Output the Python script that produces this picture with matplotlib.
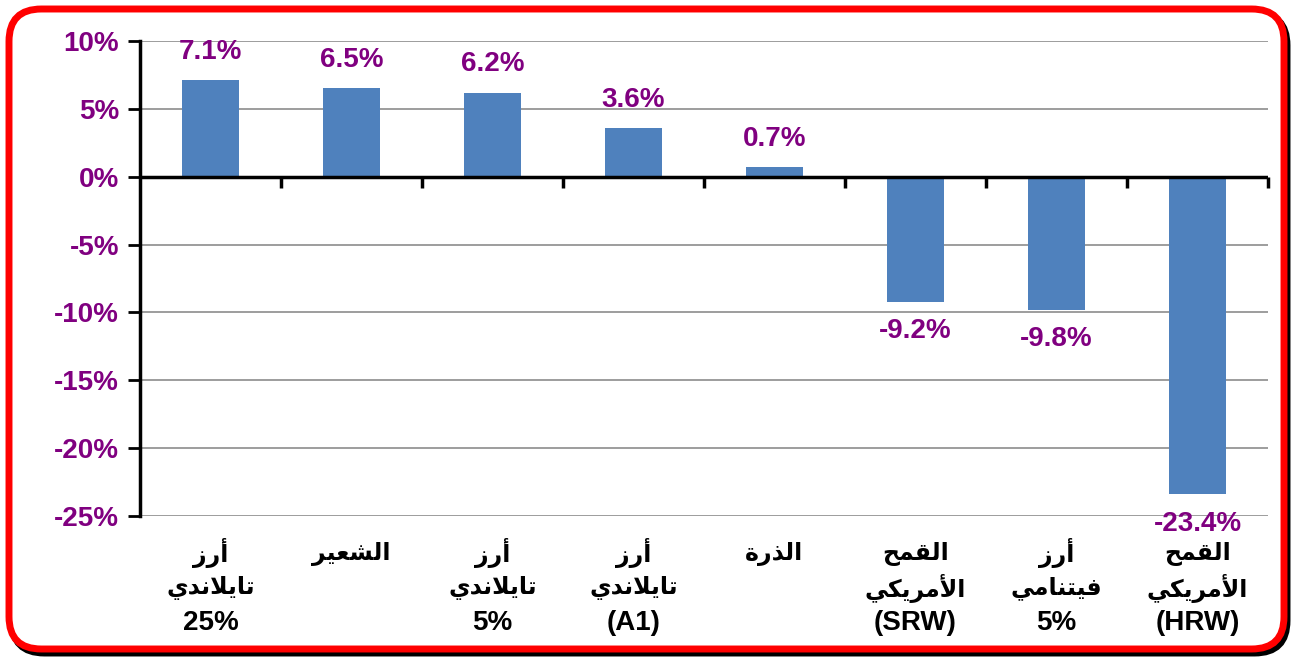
import unicodedata

import numpy as np
import matplotlib
matplotlib.use('Agg')
import matplotlib.pyplot as plt
from matplotlib.patches import FancyBboxPatch
from matplotlib.ticker import FuncFormatter
import matplotlib.transforms as mtransforms


categories = [
    'أرز\nتايلاندي\n25%',
    'الشعير',
    'أرز\nتايلاندي\n5%',
    'أرز\nتايلاندي\n(A1)',
    'الذرة',
    'القمح\nالأمريكي\n(SRW)',
    'أرز\nفيتنامي\n5%',
    'القمح\nالأمريكي\n(HRW)',
]
changes = [7.1, 6.5, 6.2, 3.6, 0.7, -9.2, -9.8, -23.4]
yticks = [10, 5, 0, -5, -10, -15, -20, -25]

BAR_COLOR = '#4F81BD'
PURPLE = '#800080'


def _form(name, kind):
    try:
        return unicodedata.lookup(name + ' ' + kind + ' FORM')
    except KeyError:
        return None


def is_arabic(line):
    return any('\u0600' <= c <= '\u06ff' for c in line)


def shape_arabic(line):
    # minimal arabic shaping + visual reordering, matplotlib has no bidi
    if not is_arabic(line):
        return line
    units = []
    i = 0
    while i < len(line):
        c = line[i]
        nxt = line[i + 1] if i + 1 < len(line) else ''
        if c == 'ل' and nxt in ('ا', 'أ'):
            name = 'ARABIC LIGATURE LAM WITH ' + unicodedata.name(nxt)[len('ARABIC LETTER '):]
            units.append(name)
            i += 2
            continue
        if '\u0600' <= c <= '\u06ff':
            units.append(unicodedata.name(c))
        else:
            units.append(c)
        i += 1

    out = []
    for k, u in enumerate(units):
        if not u.startswith('ARABIC'):
            out.append(u)
            continue
        prev = units[k - 1] if k > 0 else None
        nxt = units[k + 1] if k + 1 < len(units) else None
        joins_prev = (prev is not None and prev.startswith('ARABIC')
                      and _form(prev, 'INITIAL') is not None)
        joins_next = (nxt is not None and nxt.startswith('ARABIC')
                      and _form(u, 'INITIAL') is not None)
        if joins_prev and joins_next:
            g = _form(u, 'MEDIAL')
        elif joins_prev:
            g = _form(u, 'FINAL')
        elif joins_next:
            g = _form(u, 'INITIAL')
        else:
            g = _form(u, 'ISOLATED')
        if g is None:
            g = unicodedata.lookup(u) if not u.startswith('ARABIC LIGATURE') else u
        out.append(g)
    return ''.join(out[::-1])


plt.rcParams['font.family'] = ['Liberation Sans', 'DejaVu Sans']
plt.rcParams['font.weight'] = 'bold'

fig = plt.figure(figsize=(12.95, 6.57), dpi=100)

# rounded red frame with black shadow
shadow = FancyBboxPatch((12 / 1295, 4 / 657), 1275 / 1295, 640 / 657,
                        boxstyle='round,pad=0,rounding_size=0.025',
                        transform=fig.transFigure, facecolor='none',
                        edgecolor='black', linewidth=5, mutation_aspect=1295 / 657,
                        zorder=-2)
frame = FancyBboxPatch((9 / 1295, 8 / 657), 1275 / 1295, 640 / 657,
                       boxstyle='round,pad=0,rounding_size=0.025',
                       transform=fig.transFigure, facecolor='white',
                       edgecolor='red', linewidth=5, mutation_aspect=1295 / 657,
                       zorder=-1)
fig.add_artist(shadow)
fig.add_artist(frame)

ax = fig.add_axes([140 / 1295, 1 - 516 / 657, 1128 / 1295, 475 / 657])
ax.set_facecolor('none')

x = np.arange(len(categories))
bars = ax.bar(x, changes, width=0.4, color=BAR_COLOR, zorder=3)

for xi, v in zip(x, changes):
    if v >= 0:
        ax.annotate(f'{v:.1f}%', (xi, v), xytext=(0, 11), textcoords='offset points',
                    ha='center', va='bottom', color=PURPLE, fontsize=20,
                    fontweight='bold', zorder=4)
    else:
        ax.annotate(f'{v:.1f}%', (xi, v), xytext=(0, -12), textcoords='offset points',
                    ha='center', va='top', color=PURPLE, fontsize=20,
                    fontweight='bold', zorder=4)

ax.set_xlim(-0.5, len(categories) - 0.5)
ax.set_ylim(min(yticks), max(yticks))
ax.set_yticks(yticks)
ax.yaxis.set_major_formatter(FuncFormatter(lambda v, p: f'{v:.0f}%'))
ax.tick_params(axis='y', direction='out', length=9, width=2, color='black',
               labelcolor=PURPLE, labelsize=20, pad=6)
for lab in ax.get_yticklabels():
    lab.set_fontweight('bold')
ax.grid(axis='y', color='#8C8C8C', linewidth=1.2, zorder=0)

# category labels, one text per line so latin lines can be larger
ax.set_xticks(x)
ax.set_xticklabels([])
ax.tick_params(axis='x', length=0)
trans = mtransforms.blended_transform_factory(ax.transData, ax.transAxes)
line_offsets = [-27, -52, -77]
for xi, cat in zip(x, categories):
    for j, line in enumerate(cat.split('\n')):
        ax.annotate(shape_arabic(line), (xi, 0), xycoords=trans,
                    xytext=(0, line_offsets[j]), textcoords='offset points',
                    ha='center', va='center', color='black',
                    fontsize=17 if is_arabic(line) else 20, fontweight='bold',
                    annotation_clip=False)

for side in ('top', 'right', 'bottom'):
    ax.spines[side].set_visible(False)
ax.spines['left'].set_linewidth(2.5)
ax.spines['left'].set_zorder(5)

# zero line with category-boundary tick marks
ax.axhline(0, color='black', linewidth=2.5, zorder=5)
bounds = np.arange(len(categories) + 1) - 0.5
ax.plot(bounds[1:], np.zeros(len(bounds) - 1), ls='none', marker=3,
        markersize=8, markeredgewidth=2.5, color='black', zorder=5, clip_on=False)

fig.savefig('out.png', dpi=100)
